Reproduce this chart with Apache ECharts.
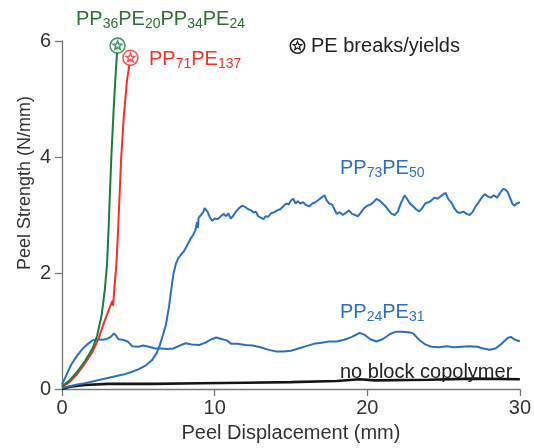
<!DOCTYPE html>
<html>
<head>
<meta charset="utf-8">
<script src="https://cdn.jsdelivr.net/npm/echarts@6/dist/echarts.min.js"></script>
<style>
html,body{margin:0;padding:0;background:#fff;}
#chart{width:534px;height:448px;}
</style>
</head>
<body>
<div id="chart"></div>
<script>
// ---- Data (Peel Displacement mm, Peel Strength N/mm) ----
var xTicks = [0, 10, 20, 30];
var yTicks = [0, 2, 4, 6];

var pp36pe20pp34pe24 = [[0,0.05],[0.5,0.15],[1,0.3],[1.5,0.48],[2,0.7],[2.3,0.92],[2.6,1.28],[2.8,1.7],[2.95,2.15],[3.05,2.75],[3.15,3.45],[3.25,4.1],[3.38,4.8],[3.52,5.45],[3.64,5.92]];
var pp71pe137 = [[0,0.04],[0.5,0.12],[1,0.26],[1.5,0.44],[2,0.64],[2.4,0.88],[2.8,1.18],[3.15,1.42],[3.3,1.52],[3.35,1.44],[3.45,1.8],[3.55,2.1],[3.65,2.6],[3.75,3.2],[3.88,4.0],[4.05,4.7],[4.25,5.3],[4.48,5.71]];
var pp73pe50 = [[0,0.02],[0.5,0.05],[1,0.08],[1.5,0.1],[2,0.13],[2.5,0.16],[3,0.19],[3.5,0.22],[4,0.25],[4.5,0.29],[5,0.34],[5.5,0.41],[5.9,0.5],[6.2,0.62],[6.4,0.75],[6.6,0.92],[6.8,1.1],[7.0,1.4],[7.15,1.7],[7.3,1.98],[7.45,2.15],[7.6,2.25],[7.8,2.32],[8.0,2.38],[8.2,2.48],[8.4,2.58],[8.6,2.66],[8.75,2.75],[8.85,2.88],[8.9,2.78],[8.95,2.95],[9.1,3.0],[9.25,3.05],[9.35,3.12],[9.45,3.15],[9.55,3.05],[9.7,2.95],[9.85,2.9],[10.0,2.94],[10.2,2.93],[10.4,2.98],[10.6,3.02],[10.75,2.98],[10.9,3.03],[11.05,2.94],[11.2,2.98],[11.4,3.06],[11.6,3.12],[11.8,3.16],[12.0,3.14],[12.2,3.1],[12.4,3.08],[12.55,3.04],[12.7,3.06],[12.85,2.98],[13.0,2.96],[13.2,2.93],[13.35,2.98],[13.5,2.97],[13.7,3.03],[13.9,3.05],[14.1,3.08],[14.3,3.1],[14.5,3.15],[14.7,3.2],[14.85,3.18],[15.0,3.25],[15.15,3.28],[15.3,3.2],[15.45,3.24],[15.6,3.2],[15.8,3.22],[16.0,3.17],[16.2,3.15],[16.4,3.2],[16.6,3.22],[16.8,3.26],[17.0,3.3],[17.2,3.34],[17.35,3.25],[17.5,3.2],[17.7,3.18],[17.85,3.1],[18.0,3.02],[18.2,3.05],[18.4,3.0],[18.6,3.04],[18.8,3.08],[19.0,3.02],[19.2,3.0],[19.4,2.98],[19.6,3.05],[19.8,3.12],[20.0,3.16],[20.2,3.18],[20.4,3.22],[20.6,3.28],[20.8,3.25],[21.0,3.2],[21.2,3.15],[21.4,3.08],[21.6,3.02],[21.8,3.0],[22.0,3.06],[22.2,3.2],[22.45,3.34],[22.6,3.28],[22.8,3.2],[23.0,3.15],[23.2,3.1],[23.4,3.06],[23.6,3.12],[23.8,3.2],[24.0,3.22],[24.2,3.25],[24.4,3.3],[24.6,3.28],[24.8,3.32],[25.0,3.36],[25.15,3.38],[25.3,3.28],[25.5,3.22],[25.7,3.12],[25.9,3.05],[26.1,3.04],[26.3,3.06],[26.5,3.02],[26.7,3.0],[26.9,3.05],[27.1,3.15],[27.3,3.22],[27.5,3.3],[27.7,3.36],[27.9,3.32],[28.1,3.3],[28.3,3.34],[28.5,3.3],[28.7,3.38],[28.9,3.45],[29.05,3.44],[29.2,3.4],[29.35,3.3],[29.5,3.2],[29.65,3.16],[29.8,3.2],[30,3.22]];
var pp24pe31 = [[0,0.08],[0.3,0.25],[0.6,0.42],[0.95,0.56],[1.3,0.68],[1.7,0.78],[2.0,0.84],[2.3,0.86],[2.6,0.85],[2.9,0.86],[3.2,0.9],[3.4,0.96],[3.55,0.92],[3.7,0.86],[4.0,0.85],[4.3,0.82],[4.6,0.74],[5.0,0.73],[5.3,0.75],[5.7,0.73],[6.1,0.7],[6.5,0.7],[6.9,0.69],[7.3,0.7],[7.7,0.75],[8.1,0.79],[8.5,0.77],[9.0,0.76],[9.4,0.8],[9.8,0.86],[10.1,0.89],[10.5,0.86],[10.8,0.84],[11.1,0.78],[11.5,0.78],[12.0,0.76],[12.5,0.75],[13.0,0.72],[13.5,0.68],[14.0,0.65],[14.5,0.65],[15.0,0.66],[15.5,0.7],[16.0,0.74],[16.5,0.78],[17.0,0.8],[17.5,0.82],[18.0,0.82],[18.5,0.85],[19.0,0.9],[19.5,0.97],[19.8,0.94],[20.2,0.86],[20.6,0.82],[21.0,0.86],[21.5,0.95],[21.9,0.99],[22.3,0.99],[22.7,0.98],[23.0,0.96],[23.4,0.85],[23.8,0.77],[24.2,0.73],[24.7,0.72],[25.2,0.74],[25.7,0.72],[26.2,0.73],[26.7,0.74],[27.2,0.73],[27.6,0.7],[28.0,0.68],[28.4,0.7],[28.8,0.78],[29.2,0.88],[29.4,0.9],[29.7,0.85],[30,0.82]];
var noBlock = [[0,0],[0.5,0.04],[1.5,0.07],[3,0.09],[6,0.09],[9,0.1],[12,0.11],[15,0.12],[18,0.14],[19.5,0.17],[20.5,0.15],[24,0.16],[27,0.18],[30,0.17]];
var breakGreen = [[3.64,5.92]];
var breakRed = [[4.48,5.71]];

// ---- Style ----
var FONT = 'Liberation Sans, Arial, Helvetica, sans-serif';
var C_GREEN = '#1e7a3e', C_GREEN_T = '#2f6e36', C_RED = '#f2302a', C_BLUE = '#2c6fbe', C_BLACK = '#151515', C_TEXT = '#333';
var SYM = 'path://M1,10 A9,9 0 1,1 19,10 A9,9 0 1,1 1,10 Z M10,4.5 L11.41,8.06 L15.23,8.3 L12.28,10.74 L13.23,14.45 L10,12.4 L6.77,14.45 L7.72,10.74 L4.77,8.3 L8.59,8.06 Z';

function starPoints(cx, cy, ro, ri) {
  var pts = [];
  for (var i = 0; i < 10; i++) {
    var a = (-90 + i * 36) * Math.PI / 180;
    var r = (i % 2 === 0) ? ro : ri;
    pts.push([cx + r * Math.cos(a), cy + r * Math.sin(a)]);
  }
  return pts;
}

function richLabel(parts, color) {
  var txt = parts.map(function (p) { return '{' + (p[1] ? 's' : 'm') + '|' + p[0] + '}'; }).join('');
  return {
    text: txt,
    rich: {
      m: {fontSize: 20, fontFamily: FONT, fill: color, lineHeight: 24, verticalAlign: 'middle'},
      s: {fontSize: 14, fontFamily: FONT, fill: color, lineHeight: 14, verticalAlign: 'bottom'}
    }
  };
}

var chart = echarts.init(document.getElementById('chart'), null, {renderer: 'canvas'});
function lineSeries(data, color, width, z) {
  return {type: 'line', data: data, showSymbol: false, symbol: 'none', smooth: false,
    lineStyle: {color: color, width: width}, z: z, animation: false, silent: true};
}
function breakSeries(data, color) {
  return {type: 'scatter', data: data, symbol: SYM, symbolSize: 15, z: 10, animation: false, silent: true,
    itemStyle: {color: '#fff', borderColor: color, borderWidth: 1.6}};
}

var LCX = 297.5, LCY = 46;
var option = {
  animation: false,
  grid: {left: 62, right: 10, top: 41, bottom: 55, containLabel: false},
  xAxis: {
    type: 'value', min: 0, max: 30, interval: 10,
    name: 'Peel Displacement (mm)', nameLocation: 'middle', nameGap: 27,
    nameTextStyle: {fontSize: 20, fontFamily: FONT, color: C_TEXT},
    axisLine: {show: true, lineStyle: {color: '#777', width: 1.3}},
    axisTick: {show: true, inside: false, length: 7, lineStyle: {color: '#777', width: 1.3}},
    axisLabel: {fontSize: 20, fontFamily: FONT, color: C_TEXT, margin: 9},
    splitLine: {show: false}
  },
  yAxis: {
    type: 'value', min: 0, max: 6, interval: 2,
    name: 'Peel Strength (N/mm)', nameLocation: 'middle', nameGap: 28, nameMoveOverlap: false,
    nameTextStyle: {fontSize: 18, fontFamily: FONT, color: C_TEXT, padding: [0, 0, 0, 64]},
    axisLine: {show: true, lineStyle: {color: '#777', width: 1.3}},
    axisTick: {show: true, inside: false, length: 7, lineStyle: {color: '#777', width: 1.3}},
    axisLabel: {fontSize: 20, fontFamily: FONT, color: C_TEXT, margin: 11},
    splitLine: {show: false}
  },
  series: [
    lineSeries(noBlock, C_BLACK, 2.6, 2),
    lineSeries(pp73pe50, C_BLUE, 2, 3),
    lineSeries(pp24pe31, C_BLUE, 2, 3),
    lineSeries(pp71pe137, C_RED, 2, 4),
    lineSeries(pp36pe20pp34pe24, C_GREEN, 2, 5),
    breakSeries(breakGreen, C_GREEN),
    breakSeries(breakRed, C_RED)
  ],
  graphic: [
    {type: 'text', left: 76, top: 9, z: 20, style: richLabel([['PP'],['36',1],['PE'],['20',1],['PP'],['34',1],['PE'],['24',1]], C_GREEN_T)},
    {type: 'text', left: 149, top: 49.5, z: 20, style: richLabel([['PP'],['71',1],['PE'],['137',1]], C_RED)},
    {type: 'text', left: 340, top: 158, z: 20, style: richLabel([['PP'],['73',1],['PE'],['50',1]], C_BLUE)},
    {type: 'text', left: 340, top: 302, z: 20, style: richLabel([['PP'],['24',1],['PE'],['31',1]], C_BLUE)},
    {type: 'text', left: 340, top: 362, z: 20, style: {text: 'no block copolymer', fontSize: 20, fontFamily: FONT, fill: '#222'}},
    {type: 'text', left: 311, top: 36, z: 20, style: {text: 'PE breaks/yields', fontSize: 20, fontFamily: FONT, fill: '#222'}},
    {type: 'circle', z: 20, shape: {cx: LCX, cy: LCY, r: 7.2}, style: {fill: '#fff', stroke: '#222', lineWidth: 1.6}},
    {type: 'polygon', z: 21, shape: {points: starPoints(LCX, LCY, 4.5, 2)}, style: {fill: 'none', stroke: '#222', lineWidth: 1.3}}
  ]
};
chart.setOption(option);
</script>
</body>
</html>
